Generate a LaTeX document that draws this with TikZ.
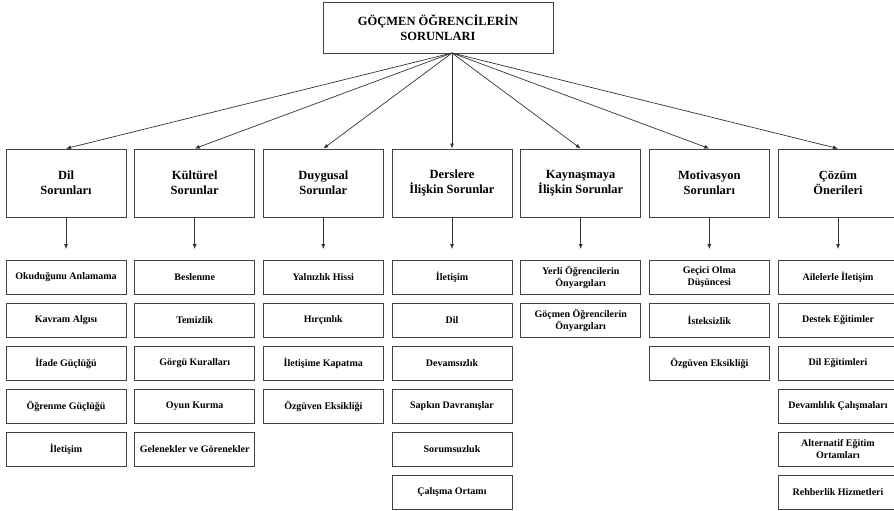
\documentclass[tikz,border=0pt]{standalone}
\usepackage{fontspec}
\setmainfont{Liberation Serif}
\usetikzlibrary{arrows.meta}

\begin{document}
\begin{tikzpicture}[x=1pt,y=-1pt,
  topbox/.style={draw=black!75, line width=0.9pt, minimum width=230pt, minimum height=51pt, align=center, font=\bfseries\fontsize{12.5}{15}\selectfont},
  catbox/.style={draw=black!75, line width=0.9pt, minimum width=120pt, minimum height=68pt, align=center, inner sep=1pt, font=\bfseries\fontsize{12.5}{15}\selectfont},
  subbox/.style={draw=black!75, line width=0.9pt, minimum width=120pt, minimum height=34pt, align=center, inner sep=1pt, font=\bfseries\fontsize{10}{12}\selectfont},
  arr/.style={-{Latex[length=5pt,width=4pt]}, draw=black!80, line width=0.7pt}]
\clip (0,0) rectangle (894,511);

% root
\node[topbox] (root) at (438,27.5) {GÖÇMEN ÖĞRENCİLERİN\\SORUNLARI};
\coordinate (hub) at (452,53);

% main headings
\node[catbox] (dil)   at (66,183)    {Dil\\Sorunları};
\node[catbox] (kult)  at (194.7,183) {Kültürel\\Sorunlar};
\node[catbox] (duyg)  at (323.3,183) {Duygusal\\Sorunlar};
\node[catbox] (ders)  at (452,183)   {Derslere\\İlişkin Sorunlar};
\node[catbox] (kayn)  at (580.7,183) {Kaynaşmaya\\İlişkin Sorunlar};
\node[catbox] (moti)  at (709.3,183) {Motivasyon\\Sorunları};
\node[catbox] (cozum) at (838,183)   {Çözüm\\Önerileri};

\draw[arr] (hub) -- (dil.north);
\draw[arr] (hub) -- (kult.north);
\draw[arr] (hub) -- (duyg.north);
\draw[arr] (hub) -- (ders.north);
\draw[arr] (hub) -- (kayn.north);
\draw[arr] (hub) -- (moti.north);
\draw[arr] (hub) -- (cozum.north);

% dil
\node[subbox] (d1) at (66,277.5) {Okuduğunu Anlamama};
\node[subbox] (d2) at (66,320.5) {Kavram Algısı};
\node[subbox] (d3) at (66,363.5) {İfade Güçlüğü};
\node[subbox] (d4) at (66,406.5) {Öğrenme Güçlüğü};
\node[subbox] (d5) at (66,449.5) {İletişim};

% kulturel
\node[subbox] (k1) at (194.7,277.5) {Beslenme};
\node[subbox] (k2) at (194.7,320.5) {Temizlik};
\node[subbox] (k3) at (194.7,363.5) {Görgü Kuralları};
\node[subbox] (k4) at (194.7,406.5) {Oyun Kurma};
\node[subbox] (k5) at (194.7,449.5) {Gelenekler ve Görenekler};

% duygusal
\node[subbox] (u1) at (323.3,277.5) {Yalnızlık Hissi};
\node[subbox] (u2) at (323.3,320.5) {Hırçınlık};
\node[subbox] (u3) at (323.3,363.5) {İletişime Kapatma};
\node[subbox] (u4) at (323.3,406.5) {Özgüven Eksikliği};

% dersler
\node[subbox] (r1) at (452,277.5) {İletişim};
\node[subbox] (r2) at (452,320.5) {Dil};
\node[subbox] (r3) at (452,363.5) {Devamsızlık};
\node[subbox] (r4) at (452,406.5) {Sapkın Davranışlar};
\node[subbox] (r5) at (452,449.5) {Sorumsuzluk};
\node[subbox] (r6) at (452,492.5) {Çalışma Ortamı};

% kaynasma
\node[subbox] (y1) at (580.7,277.5) {Yerli Öğrencilerin\\Önyargıları};
\node[subbox] (y2) at (580.7,320.5) {Göçmen Öğrencilerin\\Önyargıları};

% motivasyon
\node[subbox] (m1) at (709.3,277.5) {Geçici Olma\\Düşüncesi};
\node[subbox] (m2) at (709.3,320.5) {İsteksizlik};
\node[subbox] (m3) at (709.3,363.5) {Özgüven Eksikliği};

% cozum
\node[subbox] (c1) at (838,277.5) {Ailelerle İletişim};
\node[subbox] (c2) at (838,320.5) {Destek Eğitimler};
\node[subbox] (c3) at (838,363.5) {Dil Eğitimleri};
\node[subbox] (c4) at (838,406.5) {Devamlılık Çalışmaları};
\node[subbox] (c5) at (838,449.5) {Alternatif Eğitim\\Ortamları};
\node[subbox] (c6) at (838,492.5) {Rehberlik Hizmetleri};

\draw[arr, shorten >=11pt] (dil.south) -- (d1.north);
\draw[arr, shorten >=11pt] (kult.south) -- (k1.north);
\draw[arr, shorten >=11pt] (duyg.south) -- (u1.north);
\draw[arr, shorten >=11pt] (ders.south) -- (r1.north);
\draw[arr, shorten >=11pt] (kayn.south) -- (y1.north);
\draw[arr, shorten >=11pt] (moti.south) -- (m1.north);
\draw[arr, shorten >=11pt] (cozum.south) -- (c1.north);
\end{tikzpicture}
\end{document}
